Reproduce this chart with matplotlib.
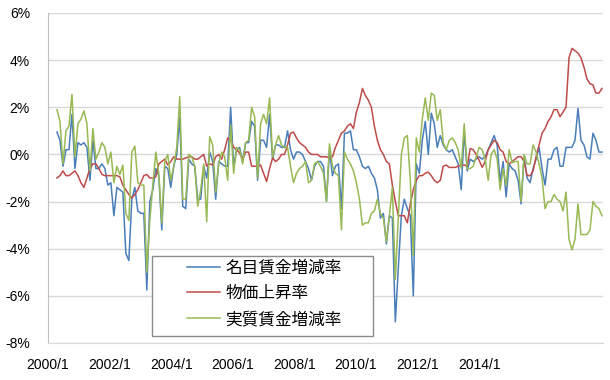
import numpy as np
import matplotlib
matplotlib.use("Agg")
from matplotlib import pyplot as plt
from matplotlib.patches import Rectangle

plt.rcParams['font.family'] = ['Liberation Sans', 'Noto Sans CJK JP', 'DejaVu Sans']

# monthly values, 2000/1 .. 2015/3 (%)
nominal = [
    0.95, 0.6, -0.5, 0.2, 0.2, 1.7, -0.6, 0.5, 0.4, 0.5, 0.3, -1.1,       # 2000
    0.6, -0.6, -0.6, -0.4, -0.6, -1.3, -1.2, -2.6, -1.4, -1.5, -1.6, -4.2,  # 2001
    -4.5, -1.9, -1.4, -2.4, -2.5, -2.5, -5.75, -2.0, -1.5, -0.6, -0.9, -3.2,  # 2002
    -0.5, -0.6, -1.4, -0.5, 0.0, 1.6, -2.2, -2.3, -0.2, -0.4, -0.5, -1.9,  # 2003
    -1.9, -0.5, -1.0, 0.1, -0.3, -1.9, -0.3, -0.4, -0.5, -0.5, 2.0, -0.5,  # 2004
    0.2, 0.3, -0.3, 0.5, 0.5, 1.4, 1.2, -1.1, 0.6, 0.6, 0.3, 1.7,         # 2005
    -0.2, 0.4, 0.4, 0.3, 0.3, 1.0, 0.2, -0.2, 0.1, 0.1, 0.0, -0.3,        # 2006
    -0.6, -1.1, -0.5, -0.3, -0.3, -0.5, -2.0, 0.2, -0.9, -0.5, -0.4, -2.3,  # 2007
    0.9, 0.9, 1.0, 0.2, 0.2, -0.1, -0.5, -0.6, -0.5, -0.8, -1.0, -1.5,    # 2008
    -2.7, -2.5, -3.8, -2.6, -2.7, -7.1, -4.8, -2.6, -1.9, -2.3, -2.6, -6.0,  # 2009
    -0.4, -0.8, 0.6, 1.4, 0.0, 1.75, 1.3, 0.3, 0.8, 0.4, 0.2, 0.1,        # 2010
    0.2, -0.1, -0.4, -1.5, 1.0, -0.7, -0.2, -0.3, -0.2, -0.1, -0.2, -0.1,  # 2011
    0.2, 0.5, 0.8, 0.4, -1.15, -0.3, -1.8, -0.4, -0.6, -0.7, -1.1, -2.1,  # 2012
    -0.1, -1.0, -1.2, -0.6, -0.2, 0.3, -0.6, -1.3, -0.2, -0.2, 0.2, 0.3,  # 2013
    -0.5, -0.5, 0.3, 0.3, 0.3, 0.6, 1.95, 0.6, 0.4, -0.1, -0.2, 0.9,      # 2014
    0.6, 0.1, 0.1,                                                        # 2015
]

prices = [
    -1.0, -0.9, -0.7, -0.9, -0.9, -0.8, -0.7, -0.9, -1.2, -1.4, -1.0, -0.6,
    -0.4, -0.4, -0.6, -0.85, -0.9, -0.9, -0.9, -0.9, -0.9, -0.95, -1.3, -1.5,
    -1.7, -1.85, -1.7, -1.5, -1.2, -0.9, -0.85, -1.0, -1.0, -0.95, -0.4, -0.3,
    -0.2, -0.45, -0.3, -0.1, -0.2, -0.2, -0.2, -0.15, -0.1, -0.1, -0.2, -0.2,
    -0.1, 0.0, -0.5, -0.4, -0.45, -0.1, 0.0, -0.2, 0.2, 0.7, 0.6, 0.3,
    0.2, 0.05, -0.2, 0.1, 0.1, -0.5, -0.5, -0.5, -0.45, -0.8, -1.15, -0.6,
    -0.15, -0.3, -0.2, 0.0, 0.0, 0.4, 0.9, 0.95, 0.7, 0.5, 0.4, 0.3,
    0.1, 0.0, 0.0, 0.0, -0.1, -0.1, -0.1, -0.15, -0.1, 0.3, 0.6, 0.9,
    1.0, 1.2, 1.3, 1.1, 1.8, 2.2, 2.8, 2.5, 2.3, 2.0, 1.2, 0.6,
    0.2, 0.0, -0.3, -0.4, -1.3, -2.0, -2.6, -2.6, -2.6, -2.9, -2.1, -1.5,
    -1.1, -0.9, -0.9, -0.8, -0.75, -0.9, -1.1, -1.2, -1.1, -0.5, -0.45, -0.55,
    -0.55, -0.55, -0.5, -0.45, -0.45, -0.5, 0.25, 0.2, 0.0, -0.25, -0.55, -0.3,
    0.2, 0.4, 0.6, 0.5, 0.2, 0.1, -0.3, -0.4, -0.3, -0.2, -0.1, -0.1,
    -0.3, -0.9, -0.9, -0.7, -0.1, 0.4, 0.9, 1.1, 1.4, 1.6, 1.9, 1.9,
    1.6, 1.8, 2.0, 4.1, 4.5, 4.4, 4.3, 4.1, 3.7, 3.2, 3.0, 2.95,
    2.6, 2.6, 2.8,
]

real = [
    1.9, 1.4, -0.4, 1.0, 1.2, 2.55, -0.1, 1.3, 1.5, 1.85, 1.3, -0.7,
    1.1, -0.2, 0.1, 0.5, 0.3, -0.4, 0.1, -1.2, -0.5, -0.85, -0.45, -2.5,
    -2.8, 0.1, 0.35, -1.2, -1.3, -1.3, -5.0, -2.8, -1.3, 0.1, -0.8, -2.9,
    -0.3, 0.0, -1.1, -0.5, 0.3, 2.45, -1.9, -1.9, 0.0, -0.1, -0.5, -2.2,
    -1.5, -0.4, -2.85, 0.75, 0.4, -1.6, -0.4, 0.1, -0.1, -1.1, 1.25, -0.8,
    0.3, 0.2, -0.4, 0.5, 0.6, 2.0, 1.6, -1.0, 1.3, 1.7, 1.3, 2.4,
    -0.1, 0.4, 0.8, 0.4, 0.3, 0.3, -0.5, -1.2, -0.8, -0.6, -0.5, -0.3,
    -1.2, -1.1, -0.4, -0.3, -0.5, -0.8, -2.0, 0.45, -0.5, -0.8, -0.9, -3.2,
    0.1, -0.2, -0.4, -0.7, -1.2, -1.9, -3.0, -2.9, -2.9, -2.5, -2.4, -1.9,
    -2.5, -2.7, -3.7, -2.6, -1.4, -5.3, -2.6, 0.0, 0.7, 0.8, -1.1, -4.3,
    0.7, 0.1, 1.5, 2.4, 1.45, 2.6, 2.5, 1.45, 1.9, 0.5, 0.2, 0.6,
    0.7, 0.5, 0.2, -0.6, 1.3, -0.6, -0.6, -0.5, -0.1, 0.3, 0.2, -0.2,
    -1.1, 0.0, 0.2, -0.2, -1.5, -0.6, -1.3, 0.2, -0.35, -0.3, -0.3, -2.0,
    0.0, -0.4, -0.4, 0.4, 0.1, -0.4, -1.0, -2.3, -2.0, -2.0, -1.7, -1.9,
    -2.0, -2.4, -1.6, -3.6, -4.05, -3.6, -2.1, -3.4, -3.4, -3.4, -3.2, -2.0,
    -2.2, -2.3, -2.6,
]

series_names = ['名目賃金増減率', '物価上昇率', '実質賃金増減率']
series_colors = ['#4a7ebb', '#be4b48', '#98b954']
xtick_labels = ['2000/1', '2002/1', '2004/1', '2006/1',
                '2008/1', '2010/1', '2012/1', '2014/1']
yticks = [6, 4, 2, 0, -2, -4, -6, -8]

fig = plt.figure(figsize=(6.1, 3.8), dpi=100)
ax = fig.add_axes([48/610, 1 - 343/380, 555/610, 330/380])

x = np.arange(len(nominal))
for vals, name, col in zip([nominal, prices, real], series_names, series_colors):
    ax.plot(x, vals, color=col, lw=1.1, label=name, zorder=2)

ax.set_xlim(-0.35, len(nominal) - 1 + 0.35)
ax.set_ylim(-8, 6)
ax.set_yticks(yticks)
ax.set_yticklabels(['%d%%' % v for v in yticks])
# labels in the original sit a little left of the true months
ax.set_xticks(np.linspace(-3.0, 141.0, len(xtick_labels)))
ax.set_xticklabels(xtick_labels)
ax.tick_params(axis='y', length=0, pad=13, labelsize=10)
ax.tick_params(axis='x', length=0, pad=11, labelsize=10)
ax.grid(axis='y', color='#d9d9d9', lw=1.0, zorder=0)
for s in ['top', 'right']:
    ax.spines[s].set_visible(False)
ax.spines['left'].set_color('#c0c0c0')
ax.spines['bottom'].set_color('#d9d9d9')

# legend box
ax.add_patch(Rectangle((0.187, 0.021), 0.399, 0.243, transform=ax.transAxes,
                       facecolor='white', edgecolor='#8c8c8c', lw=1.0, zorder=3))
leg = ax.legend(loc='upper left', bbox_to_anchor=(0.2505, 0.252), frameon=False,
                borderpad=0, borderaxespad=0, handlelength=2.0,
                handletextpad=0.3, labelspacing=0.62, fontsize=12)
leg.set_zorder(4)

fig.savefig('out.png', dpi=100)
